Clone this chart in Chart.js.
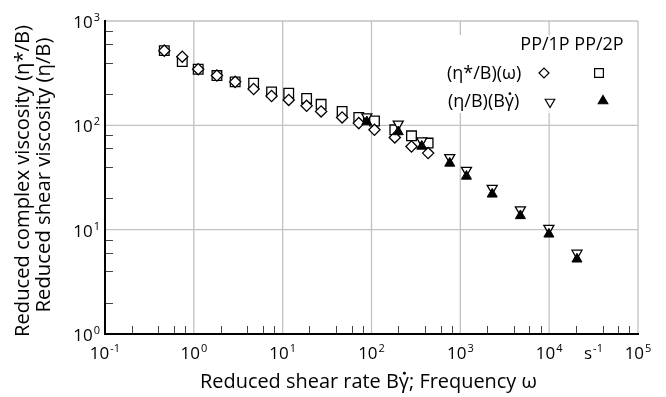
<!DOCTYPE html>
<html>
<head>
<meta charset="utf-8">
<script src="https://cdn.jsdelivr.net/npm/chart.js@4.4.1/dist/chart.umd.min.js"></script>
<style>
  html, body { margin: 0; padding: 0; background: #fff; }
  #wrap { width: 666px; height: 397px; }
</style>
</head>
<body>
<div id="wrap"><canvas id="viscChart"></canvas></div>
<script>
// values
const freqOsc   = [0.465, 0.741, 1.12, 1.82, 2.92, 4.71, 7.50, 11.7, 18.6, 27.1, 46.7, 71.9, 108, 183, 282, 434];
const etaStar1P = [520, 455, 345, 300, 261, 223, 191, 175, 154, 136, 119, 105, 90.6, 76.5, 62.7, 54.2];
const etaStar2P = [520, 408, 345, 300, 261, 253, 209, 203, 181, 159, 136, 119, 110, 90.6, 79.4, 67.6];
const shearRate = [88.5, 200, 368, 760, 1172, 2286, 4745, 9930, 20560];
const eta1P     = [121, 103, 71.1, 49.2, 37.1, 24.9, 15.5, 10.3, 5.96];
const eta2P     = [108, 86.7, 63.0, 43.3, 32.5, 21.9, 13.6, 9.06, 5.22];

// axis ticks
const decadesX = [0.1, 1, 10, 100, 1000, 10000, 100000];
const decadesY = [1, 10, 100, 1000];
const minorSteps = [2, 4, 6, 8];

const FONT = '"Open Sans", "Noto Sans", sans-serif';

function pts(xs, ys) {
    return xs.map((x, i) => ({ x: x, y: ys[i] }));
}

// pick a font size so the text spans roughly the given width
function fitFont(ctx, text, width) {
    ctx.font = '20px ' + FONT;
    const size = 20 * width / ctx.measureText(text).width;
    ctx.font = size.toFixed(2) + 'px ' + FONT;
    return size;
}

// text with a dot over the gamma, left aligned at x
function gammaDotText(ctx, before, after, x, y, size) {
    ctx.textAlign = 'left';
    ctx.fillText(before + '\u03B3' + after, x, y);
    const wb = ctx.measureText(before).width;
    const wg = ctx.measureText('\u03B3').width;
    ctx.beginPath();
    ctx.arc(x + wb + wg / 2 + 0.5, y - size * 0.74, size * 0.075, 0, Math.PI * 2);
    ctx.fill();
}

// 10 with a raised exponent
function powerLabel(ctx, exp, x, y, align) {
    ctx.font = '17px ' + FONT;
    const w10 = ctx.measureText('10').width;
    ctx.font = '11px ' + FONT;
    const wExp = ctx.measureText(exp).width;
    let start = align === 'right' ? x - w10 - wExp - 1 : x - (w10 + wExp + 1) / 2;
    ctx.textAlign = 'left';
    ctx.font = '17px ' + FONT;
    ctx.fillText('10', start, y);
    ctx.font = '11px ' + FONT;
    ctx.fillText(exp, start + w10 + 1, y - 7);
}

const paperPlugin = {
    id: 'paper',
    beforeDraw(chart) {
        const { ctx, chartArea: a, scales: { x, y } } = chart;
        ctx.save();
        // decade grid
        ctx.strokeStyle = '#c2c2c2';
        ctx.lineWidth = 1.3;
        ctx.beginPath();
        decadesX.forEach(v => {
            const px = x.getPixelForValue(v);
            ctx.moveTo(px, a.top); ctx.lineTo(px, a.bottom);
        });
        decadesY.forEach(v => {
            const py = y.getPixelForValue(v);
            ctx.moveTo(a.left, py); ctx.lineTo(a.right, py);
        });
        ctx.stroke();
        // legend box hides the grid behind it
        ctx.fillStyle = '#fff';
        ctx.fillRect(440, 35, 195, 78);
        // inward minor ticks
        ctx.strokeStyle = '#444';
        ctx.lineWidth = 1;
        ctx.beginPath();
        decadesX.slice(0, -1).forEach(d => {
            minorSteps.forEach(m => {
                const px = Math.round(x.getPixelForValue(d * m)) + 0.5;
                ctx.moveTo(px, a.bottom); ctx.lineTo(px, a.bottom - 8);
            });
        });
        decadesY.slice(0, -1).forEach(d => {
            minorSteps.forEach(m => {
                const py = Math.round(y.getPixelForValue(d * m)) + 0.5;
                ctx.moveTo(a.left, py); ctx.lineTo(a.left + 8, py);
            });
        });
        ctx.stroke();
        ctx.restore();
    },
    afterDraw(chart) {
        const { ctx, chartArea: a, scales: { x, y } } = chart;
        ctx.save();
        ctx.fillStyle = '#000';
        ctx.textBaseline = 'alphabetic';

        // tick labels
        decadesX.forEach(v => {
            const e = Math.round(Math.log10(v));
            powerLabel(ctx, e < 0 ? '-' + (-e) : String(e), x.getPixelForValue(v), a.bottom + 25, 'center');
        });
        decadesY.forEach(v => {
            const e = Math.round(Math.log10(v));
            powerLabel(ctx, String(e), a.left - 5, y.getPixelForValue(v) + 7, 'right');
        });

        // unit s^-1
        ctx.font = '17px ' + FONT;
        ctx.textAlign = 'left';
        const ws = ctx.measureText('s').width;
        ctx.fillText('s', 584, a.bottom + 25);
        ctx.font = '11px ' + FONT;
        ctx.fillText('-1', 584 + ws + 1, a.bottom + 18);

        // x title
        const xTitle = 'Reduced shear rate B\u03B3; Frequency \u03C9';
        let sz = fitFont(ctx, xTitle, 337);
        gammaDotText(ctx, 'Reduced shear rate B', '; Frequency \u03C9', 200, 388, sz);

        // y title, two lines
        const yTitle1 = 'Reduced complex viscosity (\u03B7*/B)';
        const yTitle2 = 'Reduced shear viscosity (\u03B7/B)';
        ctx.textAlign = 'center';
        ctx.save();
        ctx.translate(29, 181);
        ctx.rotate(-Math.PI / 2);
        fitFont(ctx, yTitle1, 312);
        ctx.fillText(yTitle1, 0, 0);
        ctx.restore();
        ctx.save();
        ctx.translate(50, 175);
        ctx.rotate(-Math.PI / 2);
        fitFont(ctx, yTitle2, 275);
        ctx.fillText(yTitle2, 0, 0);
        ctx.restore();

        // legend table
        ctx.font = '18px ' + FONT;
        ctx.textAlign = 'center';
        ctx.fillText('PP/1P', 545, 50);
        ctx.fillText('PP/2P', 599, 50);
        ctx.textAlign = 'left';
        ctx.fillText('(\u03B7*/B)(\u03C9)', 447, 79);
        ctx.fillText('(\u03B7/B)(B', 448, 107);
        const wl = ctx.measureText('(\u03B7/B)(B').width;
        gammaDotText(ctx, '', ')', 448 + wl, 107, 18);

        const draw = Chart.helpers.drawPoint;
        ctx.strokeStyle = '#000';
        ctx.lineWidth = 1.2;
        ctx.fillStyle = '#fff';
        draw(ctx, { pointStyle: 'rectRot', radius: 5, rotation: 0, borderWidth: 1.2 }, 544, 73);
        ctx.fillStyle = '#fff';
        draw(ctx, { pointStyle: 'rect', radius: 6.2, rotation: 0, borderWidth: 1.2 }, 599, 73);
        ctx.fillStyle = '#fff';
        draw(ctx, { pointStyle: 'triangle', radius: 5.5, rotation: 180, borderWidth: 1.2 }, 550, 102);
        ctx.fillStyle = '#000';
        draw(ctx, { pointStyle: 'triangle', radius: 5.5, rotation: 0, borderWidth: 1.2 }, 603, 101);
        ctx.restore();
    }
};

const ctx = document.getElementById('viscChart').getContext('2d');

new Chart(ctx, {
    type: 'scatter',
    data: {
        datasets: [
            {
                label: '(η/B)(Bγ̇) PP/2P',
                data: pts(shearRate, eta2P),
                pointStyle: 'triangle',
                rotation: 0,
                pointRadius: 5.8,
                backgroundColor: '#000',
                borderColor: '#000',
                borderWidth: 1
            },
            {
                label: '(η/B)(Bγ̇) PP/1P',
                data: pts(shearRate, eta1P),
                pointStyle: 'triangle',
                rotation: 180,
                pointRadius: 5.8,
                backgroundColor: '#fff',
                borderColor: '#000',
                borderWidth: 1.3
            },
            {
                label: '(η*/B)(ω) PP/1P',
                data: pts(freqOsc, etaStar1P),
                pointStyle: 'rectRot',
                pointRadius: 5.6,
                backgroundColor: '#fff',
                borderColor: '#000',
                borderWidth: 1.3
            },
            {
                label: '(η*/B)(ω) PP/2P',
                data: pts(freqOsc, etaStar2P),
                pointStyle: 'rect',
                pointRadius: 6.8,
                backgroundColor: '#fff',
                borderColor: '#000',
                borderWidth: 1.3
            }
        ]
    },
    options: {
        responsive: true,
        maintainAspectRatio: false,
        animation: false,
        layout: {
            padding: { left: 105, right: 28, top: 21, bottom: 63 }
        },
        plugins: {
            legend: { display: false },
            tooltip: { enabled: false }
        },
        scales: {
            x: {
                type: 'logarithmic',
                min: 0.1,
                max: 100000,
                ticks: { display: false },
                grid: { display: false, drawTicks: false },
                border: { display: true, color: '#000', width: 2 }
            },
            y: {
                type: 'logarithmic',
                min: 1,
                max: 1000,
                ticks: { display: false },
                grid: { display: false, drawTicks: false },
                border: { display: true, color: '#000', width: 2 }
            }
        }
    },
    plugins: [paperPlugin]
});
</script>
</body>
</html>
